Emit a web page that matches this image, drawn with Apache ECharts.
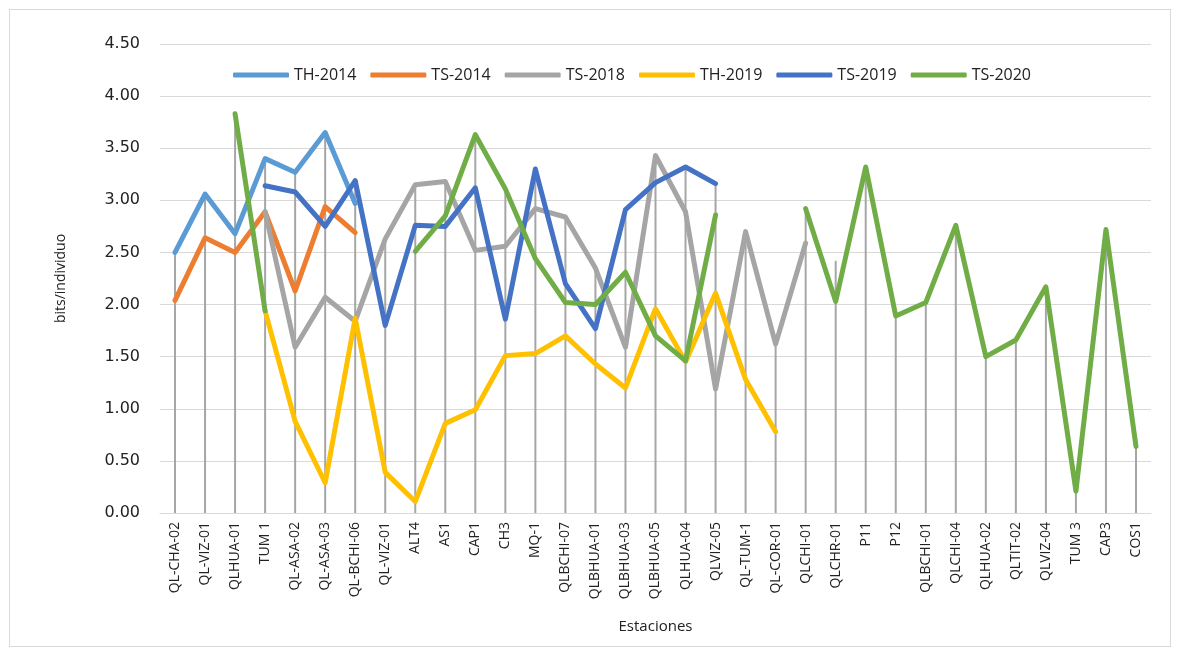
<!DOCTYPE html>
<html>
<head>
<meta charset="utf-8">
<script src="https://cdn.jsdelivr.net/npm/echarts@6/dist/echarts.min.js"></script>
<style>
  html, body { margin: 0; padding: 0; background: #fff; }
  #frame { position: absolute; left: 9px; top: 9px; width: 1162px; height: 638px; border: 1px solid #d9d9d9; box-sizing: border-box; }
  #container { position: absolute; left: 0; top: 0; width: 1181px; height: 648px; }
</style>
</head>
<body>
<div id="frame"></div>
<div id="container"></div>
<script>
var estaciones = ['QL-CHA-02', 'QL-VIZ-01', 'QLHUA-01', 'TUM 1', 'QL-ASA-02', 'QL-ASA-03', 'QL-BCHI-06',
    'QL-VIZ-01', 'ALT4', 'AS1', 'CAP1', 'CH3', 'MQ-1', 'QLBCHI-07', 'QLBHUA-01', 'QLBHUA-03', 'QLBHUA-05',
    'QLHUA-04', 'QLVIZ-05', 'QL-TUM-1', 'QL-COR-01', 'QLCHI-01', 'QLCHR-01', 'P11', 'P12', 'QLBCHI-01',
    'QLCHI-04', 'QLHUA-02', 'QLTIT-02', 'QLVIZ-04', 'TUM 3', 'CAP3', 'COS1'];

var yTicks = ['0.00', '0.50', '1.00', '1.50', '2.00', '2.50', '3.00', '3.50', '4.00', '4.50'];

var th2014 = [2.50, 3.06, 2.68, 3.40, 3.27, 3.65, 2.97];
var ts2014 = [2.04, 2.64, 2.50, 2.89, 2.13, 2.94, 2.69];
var ts2018 = [null, null, null, 2.89, 1.59, 2.07, 1.84, 2.63, 3.15, 3.18, 2.52, 2.56, 2.92, 2.84, 2.35,
    1.59, 3.43, 2.89, 1.19, 2.70, 1.62, 2.59];
var th2019 = [null, null, null, 1.94, 0.88, 0.29, 1.87, 0.39, 0.11, 0.86, 0.99, 1.51, 1.53, 1.70, 1.43,
    1.20, 1.96, 1.45, 2.11, 1.28, 0.78];
var ts2019 = [null, null, null, 3.14, 3.08, 2.75, 3.19, 1.80, 2.76, 2.75, 3.12, 1.86, 3.30, 2.20, 1.77,
    2.91, 3.17, 3.32, 3.16];
var ts2020 = [null, null, 3.83, 1.94, null, null, null, null, 2.51, 2.85, 3.63, 3.11, 2.44, 2.02, 2.00,
    2.31, 1.70, 1.46, 2.86, null, null, 2.92, 2.03, 3.32, 1.89, 2.02, 2.76, 1.50, 1.66, 2.17, 0.21, 2.72, 0.64];

// altura de las lineas verticales (drop lines)
var dropTops = [2.50, 3.06, 3.83, 3.40, 3.27, 3.65, 3.19, 2.63, 3.15, 3.18, 3.63, 3.11, 3.30, 2.84, 2.35,
    2.91, 3.43, 3.32, 3.16, 2.70, 1.62, 2.92, 2.42, 3.32, 1.89, 2.02, 2.76, 1.50, 1.66, 2.17, 0.21, 2.72, 0.64];

var seriesNames = ['TH-2014', 'TS-2014', 'TS-2018', 'TH-2019', 'TS-2019', 'TS-2020'];
var seriesData = [th2014, ts2014, ts2018, th2019, ts2019, ts2020];
var color = ['#5B9BD5', '#ED7D31', '#A5A5A5', '#FFC000', '#4472C4', '#70AD47'];

function lineSeries(i) {
    return {
        name: seriesNames[i],
        type: 'line',
        data: seriesData[i],
        showSymbol: false,
        symbol: 'none',
        connectNulls: false,
        z: 3 + i,
        lineStyle: { width: 5, color: color[i], cap: 'round', join: 'round' },
        itemStyle: { color: color[i] }
    };
}

function init() {
    var chart = echarts.init(document.getElementById('container'));
    var series = [{
        name: 'drop',
        type: 'bar',
        data: dropTops,
        barWidth: 2,
        z: 1,
        itemStyle: { color: '#A6A6A6' },
        silent: true
    }];
    for (var i = 0; i < seriesNames.length; i++) {
        series.push(lineSeries(i));
    }
    var option = {
        backgroundColor: 'transparent',
        animation: false,
        color: color,
        legend: {
            data: seriesNames,
            top: 62,
            left: 228,
            icon: 'roundRect',
            itemWidth: 56,
            itemHeight: 5,
            itemGap: 14,
            textStyle: { fontFamily: 'Open Sans', fontSize: 16, color: '#222' }
        },
        grid: { left: 160, right: 30, top: 44, bottom: 135 },
        xAxis: {
            type: 'category',
            data: estaciones,
            name: 'Estaciones',
            nameLocation: 'middle',
            nameGap: 106,
            nameTextStyle: { fontFamily: 'Open Sans', fontSize: 15, color: '#222' },
            axisLine: { lineStyle: { color: '#d9d9d9', width: 1 } },
            axisTick: { show: false },
            axisLabel: {
                rotate: 90,
                interval: 0,
                margin: 9,
                fontFamily: 'Open Sans',
                fontSize: 14,
                color: '#222'
            }
        },
        yAxis: {
            type: 'value',
            min: 0,
            max: 4.5,
            interval: 0.5,
            name: 'bits/individuo',
            nameLocation: 'middle',
            nameGap: 92,
            nameTextStyle: { fontFamily: 'Open Sans', fontSize: 14, color: '#222' },
            axisLine: { show: false },
            axisTick: { show: false },
            splitLine: { lineStyle: { color: '#d9d9d9', width: 1 } },
            axisLabel: {
                margin: 20,
                fontFamily: 'DejaVu Sans',
                fontSize: 16,
                color: '#222',
                formatter: function (v) { return yTicks[Math.round(v / 0.5)]; }
            }
        },
        series: series
    };
    chart.setOption(option);
}

init();
</script>
</body>
</html>
